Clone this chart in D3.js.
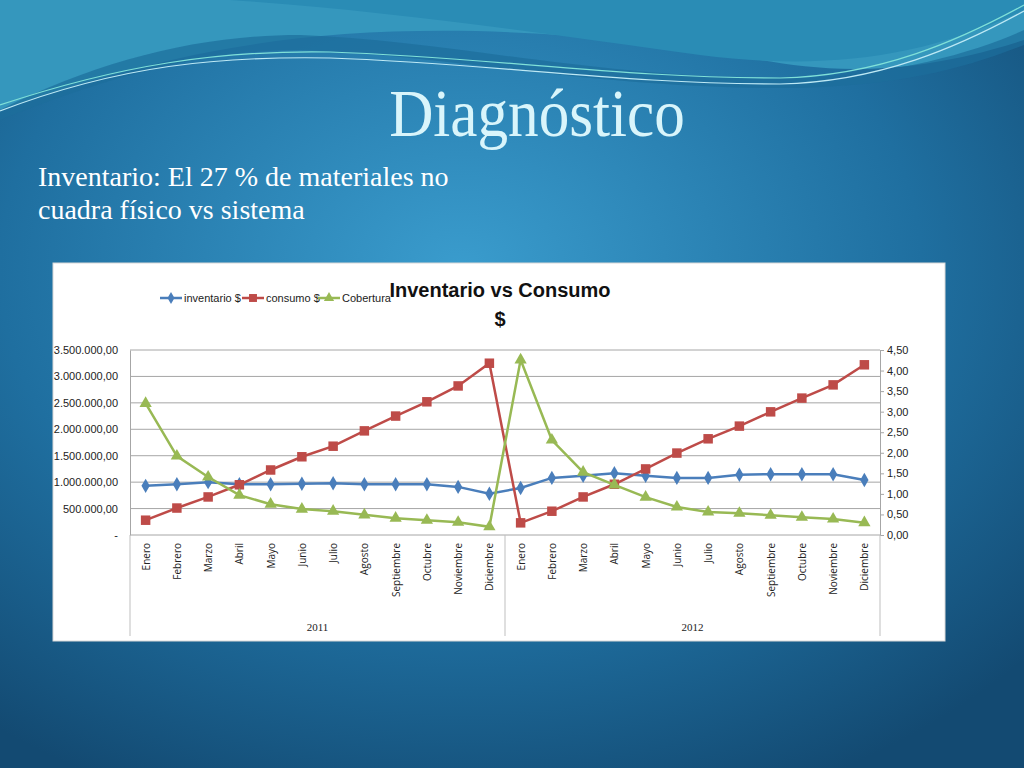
<!DOCTYPE html>
<html lang="es">
<head>
<meta charset="UTF-8">
<title>Diagnóstico</title>
<script src="https://d3js.org/d3.v7.min.js"></script>
<style>
  body { margin: 0; background: #1b5f8c; }
  svg { display: block; }
</style>
</head>
<body>
<svg width="1024" height="768"></svg>
<script>
// data
const months = ["Enero","Febrero","Marzo","Abril","Mayo","Junio","Julio","Agosto","Septiembre","Octubre","Noviembre","Diciembre"];
const years = ["2011", "2012"];
const inventario = [930000,960000,1000000,960000,960000,970000,980000,960000,960000,960000,910000,780000,
                    890000,1080000,1120000,1170000,1120000,1080000,1080000,1140000,1150000,1150000,1150000,1040000];
const consumo = [280000,510000,720000,950000,1230000,1480000,1680000,1970000,2250000,2520000,2820000,3250000,
                 230000,450000,720000,960000,1250000,1550000,1820000,2060000,2330000,2590000,2840000,3220000];
const cobertura = [3.20,1.92,1.41,0.97,0.75,0.63,0.58,0.49,0.41,0.36,0.31,0.20,
                   4.26,2.31,1.53,1.22,0.92,0.68,0.56,0.53,0.48,0.43,0.39,0.30];
const leftTicks = [0,500000,1000000,1500000,2000000,2500000,3000000,3500000];
const rightTicks = [0,0.5,1,1.5,2,2.5,3,3.5,4,4.5];

const svg = d3.select("svg");
const defs = svg.append("defs");

// slide background
const bg = defs.append("radialGradient").attr("id", "bg").attr("cx", "45%").attr("cy", "35%").attr("r", "75%");
bg.append("stop").attr("offset", "0%").attr("stop-color", "#3a9ccd");
bg.append("stop").attr("offset", "60%").attr("stop-color", "#1f6fa0");
bg.append("stop").attr("offset", "100%").attr("stop-color", "#134a72");
svg.append("rect").attr("width", 1024).attr("height", 768).attr("fill", "url(#bg)");

// top waves
svg.append("path").attr("fill", "#3597bd")
  .attr("d", "M0,0 H1024 V40 C900,80 820,70 760,60 C600,30 400,20 250,45 C150,60 60,90 0,110 Z");
svg.append("path").attr("fill", "#2a8cb5")
  .attr("d", "M230,0 H1024 V10 C920,60 820,70 700,55 C520,30 380,10 230,0 Z");
svg.append("path").attr("fill", "#1d6d9b").attr("opacity", 0.7)
  .attr("d", "M0,110 C100,60 200,35 300,35 C450,40 600,80 800,78 C900,75 980,50 1024,30 V45 C960,70 900,85 800,88 C600,90 450,55 300,50 C200,50 100,80 0,120 Z");
[["#7fe0d8", 0], ["#bde9f5", 6]].forEach(([c, o]) => {
  svg.append("path").attr("fill", "none").attr("stroke", c).attr("stroke-width", 1.2)
    .attr("d", `M0,${105 + o} C120,65 220,${50 + o} 330,${52 + o} C500,${58 + o} 620,${78 + o} 780,${78 + o} C880,${76 + o} 960,${40 + o} 1024,${5 + o}`);
});

// slide texts
svg.append("text").attr("x", 537).attr("y", 136).attr("text-anchor", "middle")
  .attr("font-family", "Liberation Serif").attr("font-size", 68).attr("fill", "#d9f5fb")
  .attr("transform", "translate(537,0) scale(0.9,1) translate(-537,0)")
  .text("Diagnóstico");
svg.append("text").attr("x", 38).attr("y", 186).attr("font-family", "Liberation Serif")
  .attr("font-size", 28).attr("fill", "#ffffff").text("Inventario: El 27 % de materiales no");
svg.append("text").attr("x", 38).attr("y", 219).attr("font-family", "Liberation Serif")
  .attr("font-size", 28).attr("fill", "#ffffff").text("cuadra físico vs sistema");

// chart box
svg.append("rect").attr("x", 53).attr("y", 263).attr("width", 892).attr("height", 378)
  .attr("fill", "#ffffff").attr("stroke", "#d8d8d8");

const font = "'Liberation Sans Narrow', 'Liberation Sans', sans-serif";
const m = { left: 130, right: 880, top: 350, bottom: 535 };
const labels = years.flatMap(y => months.map(mo => y + "|" + mo));

const x = d3.scalePoint().domain(labels).range([m.left, m.right]).padding(0.5);
const yL = d3.scaleLinear().domain([0, 3500000]).range([m.bottom, m.top]);
const yR = d3.scaleLinear().domain([0, 4.5]).range([m.bottom, m.top]);

const fmtL = d => d === 0 ? "-" : d3.format(",.2f")(d).replace(/,/g, "#").replace(".", ",").replace(/#/g, ".");
const fmtR = d => d3.format(".2f")(d).replace(".", ",");

// gridlines
svg.append("g").selectAll("line").data(leftTicks.slice(1)).join("line")
  .attr("x1", m.left).attr("x2", m.right).attr("y1", d => yL(d)).attr("y2", d => yL(d))
  .attr("stroke", "#a6a6a6").attr("stroke-width", 1);

// axes
const gl = svg.append("g").attr("transform", `translate(${m.left},0)`)
  .call(d3.axisLeft(yL).tickValues(leftTicks).tickFormat(fmtL).tickSize(0).tickPadding(12));
gl.select(".domain").attr("stroke", "#a6a6a6");
gl.selectAll("text").attr("font-family", font).attr("font-size", 11).attr("fill", "#222");

const gr = svg.append("g").attr("transform", `translate(${m.right},0)`)
  .call(d3.axisRight(yR).tickValues(rightTicks).tickFormat(fmtR).tickSize(4));
gr.select(".domain").attr("stroke", "#a6a6a6");
gr.selectAll(".tick line").attr("stroke", "#a6a6a6");
gr.selectAll("text").attr("font-family", font).attr("font-size", 11).attr("fill", "#222");

// x axis: base line, month labels, year groups
svg.append("line").attr("x1", m.left).attr("x2", m.right).attr("y1", m.bottom).attr("y2", m.bottom)
  .attr("stroke", "#a6a6a6");
svg.append("g").selectAll("text").data(labels).join("text")
  .attr("transform", d => `translate(${x(d) + 4},${m.bottom + 8}) rotate(-90)`)
  .attr("text-anchor", "end").attr("font-family", "'Open Sans', sans-serif").attr("font-size", 10)
  .attr("fill", "#222").text(d => d.split("|")[1]);
const band = (m.right - m.left) / years.length;
years.forEach((yr, i) => {
  svg.append("text").attr("x", m.left + band * (i + 0.5)).attr("y", 631).attr("text-anchor", "middle")
    .attr("font-family", "Liberation Serif").attr("font-size", 11).attr("fill", "#222").text(yr);
});
d3.range(years.length + 1).forEach(i => {
  svg.append("line").attr("x1", m.left + band * i).attr("x2", m.left + band * i)
    .attr("y1", m.bottom).attr("y2", 636).attr("stroke", "#bfbfbf");
});

// series
const series = [
  { name: "inventario $", vals: inventario, y: yL, color: "#4a7ebb", shape: d3.symbolDiamond, size: 60 },
  { name: "consumo $", vals: consumo, y: yL, color: "#be4b48", shape: d3.symbolSquare, size: 90 },
  { name: "Cobertura", vals: cobertura, y: yR, color: "#98b954", shape: d3.symbolTriangle, size: 65 }
];
series.forEach(s => {
  const pts = s.vals.map((v, i) => [x(labels[i]), s.y(v)]);
  svg.append("path").attr("d", d3.line()(pts)).attr("fill", "none")
    .attr("stroke", s.color).attr("stroke-width", 2.5);
  svg.append("g").selectAll("path").data(pts).join("path")
    .attr("transform", d => `translate(${d[0]},${d[1]})`)
    .attr("d", d3.symbol(s.shape, s.size)).attr("fill", s.color);
});

// legend
const lx = [160, 242, 318];
series.forEach((s, i) => {
  const g = svg.append("g").attr("transform", `translate(${lx[i]},298)`);
  g.append("line").attr("x1", 0).attr("x2", 22).attr("stroke", s.color).attr("stroke-width", 2.5);
  g.append("path").attr("transform", "translate(11,0)").attr("d", d3.symbol(s.shape, s.size * 0.7)).attr("fill", s.color);
  g.append("text").attr("x", 24).attr("y", 4).attr("font-family", font).attr("font-size", 11)
    .attr("fill", "#222").text(s.name);
});

// chart title
svg.append("text").attr("x", 500).attr("y", 297).attr("text-anchor", "middle")
  .attr("font-family", font).attr("font-weight", "bold").attr("font-size", 20).attr("fill", "#111")
  .text("Inventario vs Consumo");
svg.append("text").attr("x", 500).attr("y", 326).attr("text-anchor", "middle")
  .attr("font-family", font).attr("font-weight", "bold").attr("font-size", 20).attr("fill", "#111")
  .text("$");
</script>
</body>
</html>
